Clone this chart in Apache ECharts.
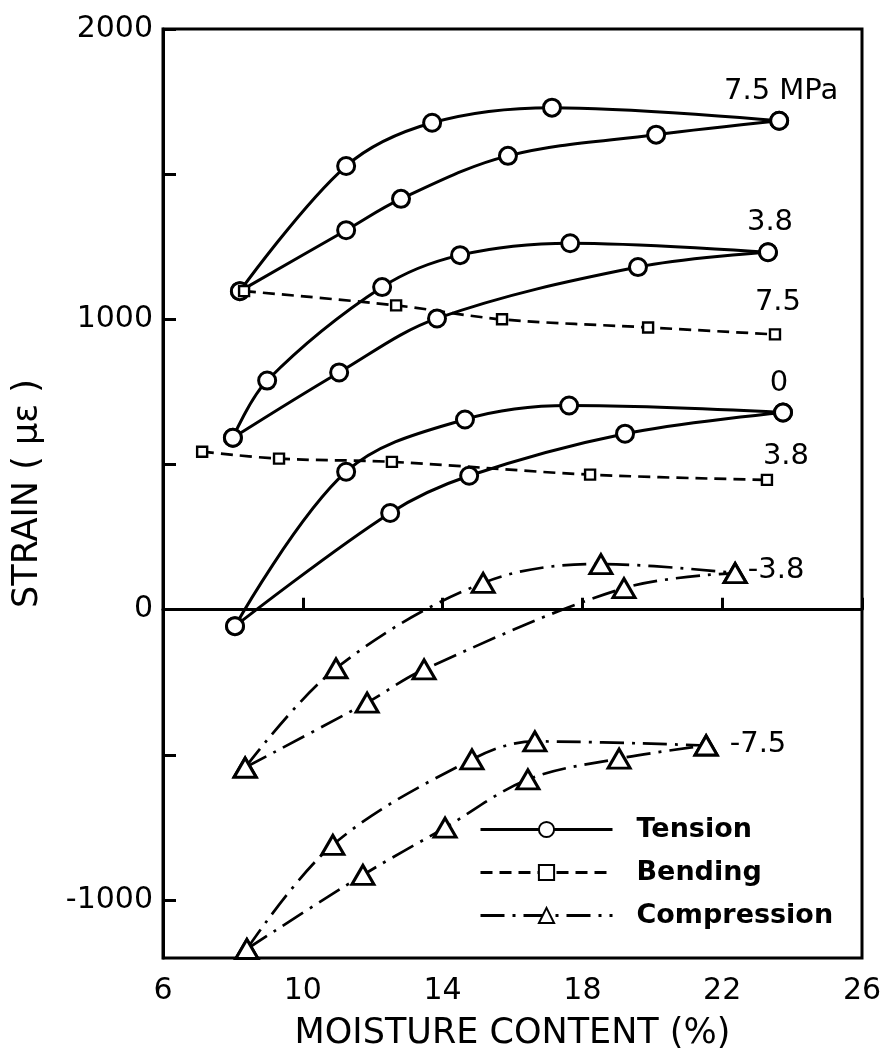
<!DOCTYPE html>
<html>
<head>
<meta charset="utf-8">
<script src="https://cdn.jsdelivr.net/npm/echarts@6/dist/echarts.min.js"></script>
<style>
html, body { margin: 0; padding: 0; background: #fff; }
#main { width: 884px; height: 1064px; }
</style>
</head>
<body>
<div id="main"></div>
<script>
// 刻度
var xMin = 6, xMax = 26, xStep = 4;
var yMin = -1200, yMax = 2000;
var yLabelValues = [-1000, 0, 1000, 2000];
var yTickValues = [-1000, -500, 0, 500, 1000, 1500, 2000];

// Tension (拉伸) 7.5 / 3.8 / 0 MPa
var tension75Up = [[8.2, 1097], [11.24, 1528], [13.7, 1677], [17.13, 1729], [23.63, 1684]];
var tension75Down = [[8.2, 1097], [11.24, 1307], [12.81, 1415], [15.87, 1563], [20.11, 1636], [23.63, 1684]];
var tension38Up = [[8.0, 592], [8.98, 789], [12.27, 1111], [14.5, 1221], [17.65, 1262], [23.31, 1231]];
var tension38Down = [[8.0, 592], [11.04, 817], [13.84, 1003], [19.59, 1180], [23.31, 1231]];
var tension0Up = [[8.06, -57], [11.24, 475], [14.64, 655], [17.62, 703], [23.74, 679]];
var tension0Down = [[8.06, -57], [12.5, 333], [14.76, 461], [19.22, 606], [23.74, 679]];
// Bending (弯曲) 7.5 / 3.8
var bending75 = [[8.32, 1097], [12.67, 1048], [15.7, 1000], [19.88, 972], [23.51, 948]];
var bending38 = [[7.12, 544], [9.32, 520], [12.55, 509], [18.22, 465], [23.28, 447]];
// Compression (压缩) -3.8 / -7.5
var comp38Up = [[8.35, -544], [10.95, -202], [15.16, 92], [18.53, 157], [22.37, 126]];
var comp38Down = [[8.35, -544], [11.84, -320], [13.47, -206], [19.19, 74], [22.37, 126]];
var comp75Up = [[8.4, -1169], [10.86, -810], [14.84, -516], [16.64, -454], [21.54, -468]];
var comp75Down = [[8.4, -1169], [11.72, -914], [14.07, -751], [16.44, -585], [19.05, -513], [21.54, -468]];

var legendNames = ['Tension', 'Bending', 'Compression'];

var styles = {
    Tension: { symbol: 'circle', size: 17, dash: 'solid', width: 3 },
    Bending: { symbol: 'rect', size: 10, dash: [12, 7], width: 2.7 },
    Compression: { symbol: 'triangle', size: [22, 19], dash: [24, 8, 3, 8], width: 2.7 }
};

function makeSeries(name, data, text, pos, off) {
    var st = styles[name];
    var d = data.map(function (p) { return p.slice(); });
    if (text) {
        d[d.length - 1] = {
            value: d[d.length - 1],
            label: { show: true, formatter: text, position: pos, offset: off, fontSize: 29, color: '#000' }
        };
    }
    return {
        name: name,
        type: 'line',
        data: d,
        smooth: 0.35,
        symbol: st.symbol,
        symbolSize: st.size,
        showAllSymbol: true,
        lineStyle: { color: '#000', width: st.width, type: st.dash },
        itemStyle: { color: '#fff', borderColor: '#000', borderWidth: name == 'Bending' ? 2.4 : 3 },
        emphasis: { disabled: true },
        z: 3
    };
}

var series = [
    makeSeries('Tension', tension75Up, '7.5 MPa', 'top', [2, 0]),
    makeSeries('Tension', tension75Down),
    makeSeries('Tension', tension38Up, '3.8', 'top', [2, 0]),
    makeSeries('Tension', tension38Down),
    makeSeries('Tension', tension0Up, '0', 'top', [-4, 0]),
    makeSeries('Tension', tension0Down),
    makeSeries('Bending', bending75, '7.5', 'top', [3, -6]),
    makeSeries('Bending', bending38, '3.8', 'top', [19, 2]),
    makeSeries('Compression', comp38Up, '-3.8', 'right', [-5, -3]),
    makeSeries('Compression', comp38Down),
    makeSeries('Compression', comp75Up, '-7.5', 'right', [6, -1]),
    makeSeries('Compression', comp75Down)
];
// 零线
series[0].markLine = {
    silent: true,
    symbol: ['none', 'none'],
    label: { show: false },
    lineStyle: { color: '#000', width: 2, type: 'solid' },
    data: [{ yAxis: 0 }]
};

var option = {
    animation: false,
    backgroundColor: '#fff',
    textStyle: { fontFamily: 'DejaVu Sans', color: '#000' },
    grid: {
        left: 163, right: 22, top: 29, bottom: 106,
        show: true, borderColor: '#000', borderWidth: 3,
        outerBoundsMode: 'none'
    },
    legend: {
        data: legendNames,
        orient: 'vertical',
        left: 479,
        top: 816,
        padding: 0,
        itemWidth: 132,
        itemHeight: 19,
        itemGap: 16,
        selectedMode: false,
        lineStyle: { width: 3 },
        textStyle: { fontSize: 27, fontWeight: 'bold', color: '#000', padding: [0, 0, 0, 19] }
    },
    xAxis: {
        type: 'value',
        min: xMin,
        max: xMax,
        interval: xStep,
        name: 'MOISTURE CONTENT (%)',
        nameLocation: 'middle',
        nameGap: 58,
        nameTextStyle: { fontSize: 35, color: '#000' },
        axisLine: { show: true, lineStyle: { color: '#000', width: 3 } },
        axisTick: { show: true, inside: true, length: 12, lineStyle: { color: '#000', width: 3 } },
        axisLabel: { fontSize: 30, color: '#000', margin: 18 },
        splitLine: { show: false }
    },
    yAxis: {
        type: 'value',
        min: yMin,
        max: yMax,
        name: 'STRAIN ( με )',
        nameLocation: 'middle',
        nameGap: 118,
        nameTextStyle: { fontSize: 35, color: '#000' },
        axisLine: { show: true, lineStyle: { color: '#000', width: 3 } },
        axisTick: { show: true, inside: true, length: 13, customValues: yTickValues, lineStyle: { color: '#000', width: 3 } },
        axisLabel: {
            fontSize: 30, color: '#000', margin: 10, customValues: yLabelValues,
            formatter: function (v) { return String(v); }
        },
        splitLine: { show: false }
    },
    series: series
};

var myChart = echarts.init(document.getElementById('main'));
myChart.setOption(option);
</script>
</body>
</html>
